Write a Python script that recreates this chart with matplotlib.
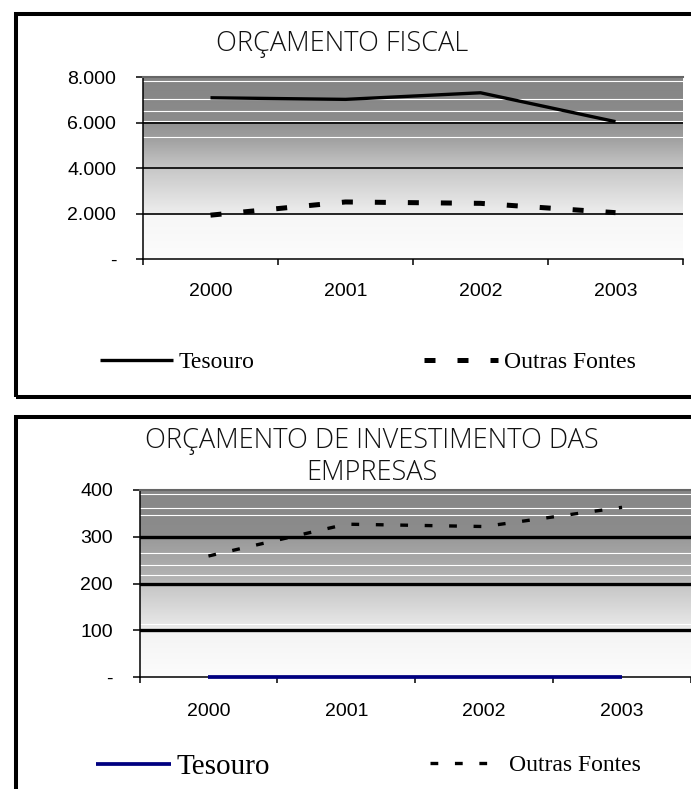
import numpy as np
import matplotlib
matplotlib.use('Agg')
import matplotlib.pyplot as plt
from matplotlib.patches import Rectangle
from matplotlib.ticker import FuncFormatter, FixedLocator

years = ['2000', '2001', '2002', '2003']

fiscal_tesouro = [7100, 7030, 7320, 6050]
fiscal_outras = [1940, 2520, 2460, 2050]
fiscal_yticks = [0, 2000, 4000, 6000, 8000]

empresas_tesouro = [0, 0, 0, 0]
empresas_outras = [259, 327, 322, 363]
empresas_yticks = [0, 100, 200, 300, 400]

# banding lines left by the gradient fill in the original picture
fiscal_bands = [7840, 7030, 6510, 6080, 5380]
empresas_bands = [392, 362, 346, 266, 239, 218, 114]

W, H = 691, 789
fig = plt.figure(figsize=(W / 100, H / 100), dpi=100)


def px(x0, y_top, x1, y_bot):
    return [x0 / W, 1 - y_bot / H, (x1 - x0) / W, (y_bot - y_top) / H]


def fmt(v, pos):
    if v == 0:
        return '-'
    return '{:,.0f}'.format(v).replace(',', '.')


def gradient(ax, stops):
    pos = np.linspace(0, 1, 400)
    sp, sv = zip(*sorted(stops))
    g = np.interp(pos, sp, sv)[::-1]
    img = np.stack([g, g, g], axis=-1)[:, None, :].repeat(2, axis=1)
    ax.imshow(img, extent=[0, 1, 0, 1], transform=ax.transAxes,
              aspect='auto', zorder=0, interpolation='bilinear')


def style_axes(ax, yticks, bands, grid_lw, xpad, stops):
    n = len(years)
    gradient(ax, stops)
    ax.set_xlim(-0.5, n - 0.5)
    ax.set_ylim(yticks[0], yticks[-1])
    for b in bands:
        ax.axhline(b, color='white', lw=0.8, zorder=1)
    for t in yticks[1:-1]:
        ax.axhline(t, color='black', lw=grid_lw, zorder=2)
    ax.set_xticks(range(n))
    ax.set_xticklabels(years)
    ax.xaxis.set_minor_locator(FixedLocator(np.arange(-0.5, n, 1.0)))
    ax.tick_params(axis='x', which='major', length=0, pad=xpad,
                   labelsize=14)
    ax.tick_params(axis='x', which='minor', length=4.5, width=1.1,
                   direction='out')
    ax.set_yticks(yticks)
    ax.yaxis.set_major_formatter(FuncFormatter(fmt))
    ax.tick_params(axis='y', length=4.7, width=1.1, direction='out',
                   pad=14.5, labelsize=14)
    for lab in ax.get_xticklabels() + ax.get_yticklabels():
        lab.set_family('Liberation Sans')
    ax.spines['right'].set_visible(False)
    ax.spines['top'].set_color('#666666')
    ax.spines['top'].set_linewidth(1.5)
    ax.spines['left'].set_linewidth(1.1)
    ax.spines['bottom'].set_linewidth(1.1)
    ax.set_facecolor('white')


# frames around each chart
for y_top, y_bot in [(14, 397), (417, 830)]:
    fig.add_artist(Rectangle((15.5 / W, 1 - y_bot / H), 1.1, (y_bot - y_top) / H,
                             transform=fig.transFigure, fill=False,
                             edgecolor='black', lw=2.9, clip_on=False))

title_font = dict(family='Open Sans', fontweight='light', fontsize=19.5,
                  color='#111111', ha='center', va='center')

# ---- ORÇAMENTO FISCAL
ax1 = fig.add_axes(px(143, 77.3, 683, 259.3))
style_axes(ax1, fiscal_yticks, fiscal_bands, 1.2, 17,
           [(1.0, 0.52), (0.75, 0.55), (0.749, 0.57), (0.67, 0.62),
            (0.5, 0.78), (0.25, 0.93), (0.249, 0.965), (0.0, 0.99)])
x = np.arange(len(years))
t1, = ax1.plot(x, fiscal_tesouro, color='black', lw=2.4, zorder=3,
               solid_capstyle='butt', label='Tesouro')
o1, = ax1.plot(x, fiscal_outras, color='black', lw=3.6, zorder=3,
               dashes=(2.2, 4.4), dash_capstyle='butt', label='Outras Fontes')
fig.text(342 / W, 1 - 44.5 / H, 'ORÇAMENTO FISCAL', **title_font)

leg_kw = dict(frameon=False, borderpad=0, borderaxespad=0, loc='center left',
              bbox_transform=fig.transFigure, prop={'family': 'Liberation Serif', 'size': 17})
l1 = ax1.legend(handles=[t1], bbox_to_anchor=(99.5 / W, 1 - 362 / H),
                handlelength=3.11, handletextpad=0.25, **leg_kw)
ax1.add_artist(l1)
ax1.legend(handles=[o1], bbox_to_anchor=(424 / W, 1 - 362 / H),
           handlelength=3.13, handletextpad=0.25, **leg_kw)

# ---- ORÇAMENTO DE INVESTIMENTO DAS EMPRESAS
ax2 = fig.add_axes(px(139.5, 490, 691, 677.3))
style_axes(ax2, empresas_yticks, empresas_bands, 2.4, 18.5,
           [(1.0, 0.53), (0.75, 0.55), (0.749, 0.60), (0.51, 0.71),
            (0.5, 0.77), (0.27, 0.91), (0.249, 0.955), (0.0, 0.99)])
t2, = ax2.plot(x, empresas_tesouro, color='#000080', lw=2.7, zorder=3,
               solid_capstyle='butt', label='Tesouro', clip_on=False)
o2, = ax2.plot(x, empresas_outras, color='black', lw=2.4, zorder=3,
               dashes=(2.33, 5.0), dash_capstyle='butt', label='Outras Fontes')
fig.text(372 / W, 1 - 457 / H, 'ORÇAMENTO DE INVESTIMENTO DAS\nEMPRESAS',
         linespacing=1.18, **title_font)

l3 = ax2.legend(handles=[t2], bbox_to_anchor=(96 / W, 1 - 767 / H),
                handlelength=2.57, handletextpad=0.2,
                **{**leg_kw, 'prop': {'family': 'Liberation Serif', 'size': 21}})
ax2.add_artist(l3)
ax2.legend(handles=[o2], bbox_to_anchor=(430 / W, 1 - 765 / H),
           handlelength=3.09, handletextpad=0.25, **leg_kw)

fig.savefig('out.png', dpi=100, facecolor='white')
